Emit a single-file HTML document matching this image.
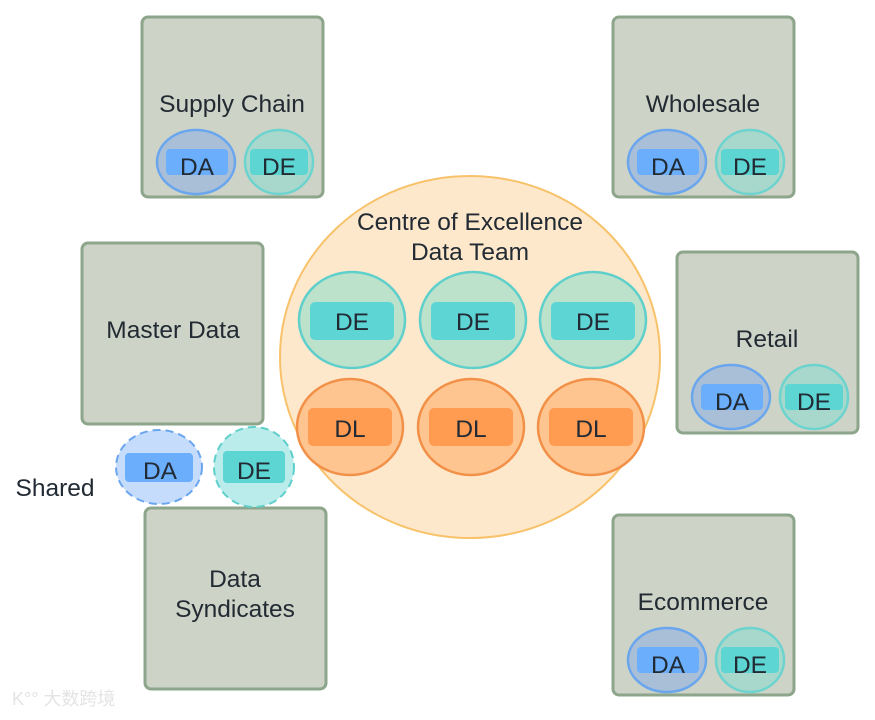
<!DOCTYPE html>
<html><head><meta charset="utf-8"><style>
html,body{margin:0;padding:0;background:#fff;}
svg text{font-family:"Liberation Sans",sans-serif;fill:#222a33;}
</style></head><body>
<svg width="875" height="715" viewBox="0 0 875 715" xmlns="http://www.w3.org/2000/svg">
<defs>
<g id="dade">
  <ellipse cx="54" cy="0" rx="39" ry="32" fill="#a9bfd8" stroke="#6aa6ee" stroke-width="2.5"/>
  <rect x="24" y="-13" width="62" height="26" rx="4" fill="#6aaefc"/>
  <text x="55" y="13" font-size="24.5" text-anchor="middle">DA</text>
  <ellipse cx="137" cy="0" rx="34" ry="32" fill="#a8d8cc" stroke="#6dd3cf" stroke-width="2.5"/>
  <rect x="108" y="-13" width="58" height="26" rx="4" fill="#5dd5d3"/>
  <text x="137" y="13" font-size="24.5" text-anchor="middle">DE</text>
</g>
</defs>
<g fill="#cdd3c6" stroke="#8da68b" stroke-width="3">
<rect x="142" y="17" width="181" height="180" rx="6"/>
<rect x="613" y="17" width="181" height="180" rx="6"/>
<rect x="82" y="243" width="181" height="181" rx="6"/>
<rect x="677" y="252" width="181" height="181" rx="6"/>
<rect x="145" y="508" width="181" height="181" rx="6"/>
<rect x="613" y="515" width="181" height="180" rx="6"/>
</g>
<g font-size="24.5" text-anchor="middle">
<text x="232" y="112">Supply Chain</text>
<text x="703" y="112">Wholesale</text>
<text x="173" y="338">Master Data</text>
<text x="767" y="347">Retail</text>
<text x="235" y="587">Data</text>
<text x="235" y="617">Syndicates</text>
<text x="703" y="610">Ecommerce</text>
<text x="55" y="496">Shared</text>
</g>
<use href="#dade" x="142" y="162"/>
<use href="#dade" x="613" y="162"/>
<use href="#dade" x="677" y="397"/>
<use href="#dade" x="613" y="660"/>
<ellipse cx="159" cy="467" rx="43" ry="37" fill="#c5dcfc" stroke="#6aa6ee" stroke-width="2" stroke-dasharray="8,5"/>
<rect x="125" y="453" width="68" height="29" rx="4" fill="#6aaefc"/>
<text x="160" y="479" font-size="24.5" text-anchor="middle">DA</text>
<ellipse cx="254" cy="467" rx="40" ry="40" fill="#b9ecea" stroke="#5fcfcb" stroke-width="2" stroke-dasharray="8,5"/>
<rect x="223" y="451" width="62" height="32" rx="4" fill="#5dd5d3"/>
<text x="254" y="479" font-size="24.5" text-anchor="middle">DE</text>
<ellipse cx="470" cy="357" rx="190" ry="181" fill="#fee8cc" stroke="#f8c26a" stroke-width="2"/>
<text x="470" y="230" font-size="24.5" text-anchor="middle">Centre of Excellence</text>
<text x="470" y="260" font-size="24.5" text-anchor="middle">Data Team</text>
<g font-size="24.5" text-anchor="middle">
<ellipse cx="352" cy="320" rx="53" ry="48" fill="#bde2cc" stroke="#5fcfcb" stroke-width="2.5"/>
<rect x="310" y="302" width="84" height="38" rx="5" fill="#5dd5d5"/>
<text x="352" y="330">DE</text>
<ellipse cx="473" cy="320" rx="53" ry="48" fill="#bde2cc" stroke="#5fcfcb" stroke-width="2.5"/>
<rect x="431" y="302" width="84" height="38" rx="5" fill="#5dd5d5"/>
<text x="473" y="330">DE</text>
<ellipse cx="593" cy="320" rx="53" ry="48" fill="#bde2cc" stroke="#5fcfcb" stroke-width="2.5"/>
<rect x="551" y="302" width="84" height="38" rx="5" fill="#5dd5d5"/>
<text x="593" y="330">DE</text>
<ellipse cx="350" cy="427" rx="53" ry="48" fill="#ffc590" stroke="#f29048" stroke-width="2.5"/>
<rect x="308" y="408" width="84" height="38" rx="5" fill="#ff9c52"/>
<text x="350" y="437">DL</text>
<ellipse cx="471" cy="427" rx="53" ry="48" fill="#ffc590" stroke="#f29048" stroke-width="2.5"/>
<rect x="429" y="408" width="84" height="38" rx="5" fill="#ff9c52"/>
<text x="471" y="437">DL</text>
<ellipse cx="591" cy="427" rx="53" ry="48" fill="#ffc590" stroke="#f29048" stroke-width="2.5"/>
<rect x="549" y="408" width="84" height="38" rx="5" fill="#ff9c52"/>
<text x="591" y="437">DL</text>
</g>
<text x="12" y="705" font-size="18" style="fill:#e4e4e4;font-family:'Liberation Sans','Noto Sans CJK SC',sans-serif;">K°° 大数跨境</text>
</svg>
</body></html>
